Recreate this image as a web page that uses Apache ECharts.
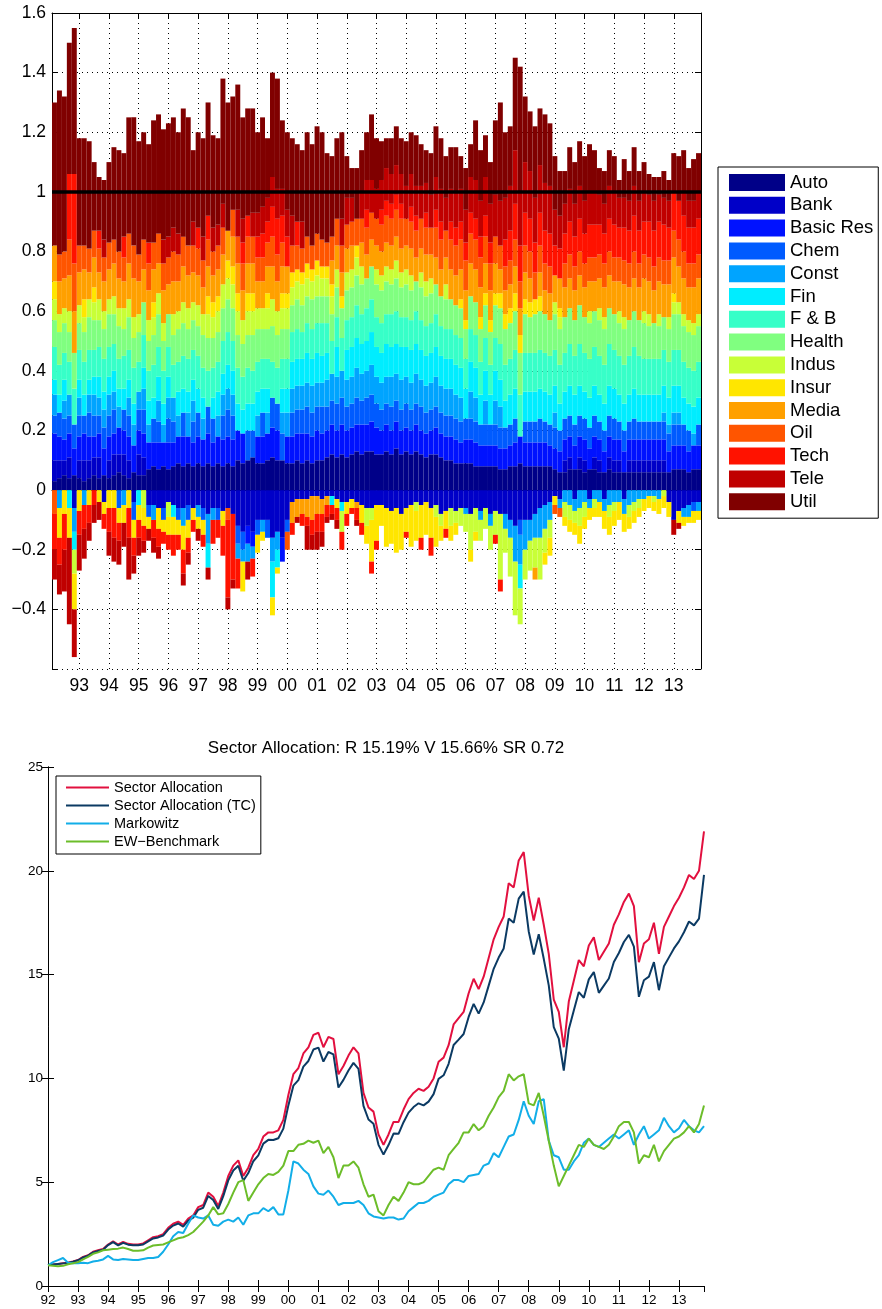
<!DOCTYPE html>
<html>
<head>
<meta charset="utf-8">
<script src="https://cdn.jsdelivr.net/npm/echarts/dist/echarts.min.js"></script>
<style>html,body{margin:0;padding:0;background:#fff}#c{width:882px;height:1309px}</style>
</head>
<body>
<div id="c"></div>
<script>
// ---------- top chart: sector weights (hundredths), one bar per two months, Feb 1992 .. Nov 2013 ----------
const sectorNames = ['Auto','Bank','Basic Res','Chem','Const','Fin','F & B','Health','Indus','Insur','Media','Oil','Tech','Tele','Util'];
const sectorColors = ['#000088','#0000C8','#0012FF','#005BFF','#00A4FF','#00EDFF','#37FFC8','#80FF80','#C8FF37','#FFE600','#FFA000','#FF5500','#FF1200','#C00000','#800000'];

const auto = [3,4,5,4,5,4,3,4,5,4, 5,4,5,6,5,4,6,5,5,7, 8,7,8,7,8,9,8,9,8,9, 8,9,8,9,8,9,8,10,9,10, 11,9,9,10,11,10,10,9,9,10, 9,10,9,10,10,11,12,11,12,11, 12,13,12,13,13,12,12,13,12,14, 12,13,12,13,12,11,12,12,11,10, 10,9,9,9,9,8,8,8,8,8, 7,7,8,8,9,8,8,8,8,8, 8,7,6,6,7,7,7,6,7,7, 6,6,7,6,6,6,6,6,6,6, 6,6,6,6,6,7,7,7,6,7,7];
const bank = [7,6,5,7,-6,6,7,6,6,7, -4,6,7,6,7,6,-4,7,6,-5, -5,-6,-6,-4,-5,-6,-6,-5,-6,-5, -6,-8,-6,-6,-7,-6,-8,-12,-14,-12, -14,-10,-10,-10,-16,-14,-16,-10,-4,-3, -3,-3,-2,-2,-3,-2,-2,-3,-4,-4, -3,-4,-5,-6,-6,-5,-5,-6,-7,-6, -8,-6,-5,-4,-5,-4,-6,-5,-8,-7, -6,-7,-6,-6,-8,-6,-7,-6,-8,-7, -8,-8,-10,-12,-10,-10,-10,-8,-6,-5, -4,-2,-3,4,4,-3,4,4,-3,4, 4,-3,4,4,4,-3,4,4,4,4, 4,4,4,4,-4,-10,-7,-6,-5,-4,-4];
const basicRes = [9,8,7,8,9,8,9,8,7,8, 9,8,7,9,8,8,9,8,8,9, 8,9,8,9,8,9,10,9,8,9, 9,10,8,9,9,9,9,10,10,-6, -5,9,9,9,10,10,-8,9,9,9, 10,9,9,10,9,9,10,9,10,9, 9,9,10,9,10,9,8,9,8,9, 8,8,8,9,8,8,8,9,8,8, 8,8,7,8,8,8,7,7,7,7, 7,7,7,8,9,8,8,8,8,8, 7,7,7,7,7,8,7,7,7,7, 7,7,7,7,7,7,7,7,7,7, 7,7,7,7,7,8,8,8,7,8,8];
const chem = [6,8,7,6,8,7,6,8,7,6, 7,7,8,-6,7,7,-6,7,8,-4, 8,7,-4,8,7,-4,8,-5,7,8, -4,9,8,-4,8,9,8,-6,-6,10, 9,-5,8,-6,10,9,9,-4,8,8, 8,9,8,8,9,8,8,9,9,8, 8,9,8,9,9,8,7,7,8,7, 7,8,7,7,8,7,7,7,7,7, 7,7,7,7,7,7,7,7,7,7, 7,7,7,8,-5,7,7,7,8,7, 7,7,7,7,7,7,7,7,7,7, 6,7,7,7,6,7,6,7,6,6, 6,6,6,6,6,7,7,7,7,-3,7];
const constr = [7,-6,6,7,-8,6,-5,6,7,6, 6,7,6,7,-5,6,7,6,7,6, -5,7,6,7,8,7,-6,8,7,-4, 7,-10,-4,7,7,7,7,-5,-4,-6, -4,7,-4,7,-8,-6,7,8,8,8, 8,8,9,8,8,9,9,9,9,9, 9,10,9,9,10,9,9,9,10,9, 10,9,9,10,9,9,9,10,9,9, 9,8,8,-2,9,8,-3,8,-4,8, 7,-5,-6,-12,-10,-10,-7,-8,-10,-8, -6,5,-3,-4,-5,-4,-6,-4,-3,-3, -4,-4,-5,-4,-4,-5,-5,-4,-3,-3, -2,-2,-3,3,3,4,4,-3,-4,4,-3];
const fin = [5,6,7,-6,-6,6,7,5,6,7, 6,6,7,6,7,6,7,-5,7,8, 7,8,7,7,-4,8,8,7,7,8, 7,-8,7,8,7,8,8,9,8,9, 9,8,8,8,-12,-6,8,8,9,9, 9,10,9,10,9,9,-3,10,-3,10, 10,10,10,10,11,10,10,11,10,10, 11,10,11,10,10,10,10,10,10,10, 10,10,10,10,10,10,10,10,10,10, 9,9,10,10,-8,10,10,10,10,10, 10,9,9,9,10,10,10,9,10,10, 9,9,10,10,9,9,9,10,9,9, 9,9,9,9,9,9,9,9,9,9,9];
const foodBev = [11,10,9,11,12,10,11,10,9,10, 11,10,9,10,11,10,12,10,11,10, 11,10,11,10,11,10,11,11,10,11, 10,12,10,10,11,11,10,12,11,12, 11,10,10,10,12,12,10,10,10,10, 9,10,10,10,11,10,11,10,11,10, 10,11,10,11,11,10,10,10,11,11, 10,10,10,11,10,10,10,11,10,10, 10,10,10,10,11,11,11,11,10,11, 12,12,12,13,14,13,13,13,13,13, 13,12,13,13,14,13,14,13,13,13, 13,13,14,13,13,13,13,14,13,12, 12,12,12,12,12,12,12,12,12,12,12];
const health = [9,11,10,10,12,9,10,11,10,9, 10,11,10,11,9,11,10,10,11,10, 10,11,10,11,10,11,11,10,10,10, 11,11,10,10,11,11,11,11,11,11, 12,11,10,10,12,11,10,10,9,10, 9,9,10,9,9,9,9,10,10,10, 10,10,10,10,11,11,11,11,10,11, 10,11,10,10,11,10,10,10,10,10, 10,10,10,10,11,11,11,11,11,11, 12,12,12,13,14,13,12,13,13,13, 12,12,12,12,12,12,13,12,12,12, 12,12,12,12,11,12,12,12,12,12, 11,12,11,11,11,12,12,12,12,12,12];
const indus = [7,6,5,7,-8,6,5,6,6,7, 6,5,6,6,7,6,7,6,-6,7, 6,7,6,-5,7,6,7,7,6,7, 7,8,7,7,8,7,8,8,8,8, 8,7,7,7,9,8,7,7,6,6, 7,6,6,7,6,6,6,6,-7,6, 6,6,6,-6,-4,5,5,5,5,6, 5,5,5,-3,5,5,5,-4,-4,5, -6,-4,-6,-6,-12,-8,-7,-7,-8,-8, -22,-8,-13,-18,-12,-10,-10,-10,-14,-8, -6,4,4,-5,-5,-4,-6,-5,4,-3, 4,4,-4,-3,4,4,-4,-3,-3,4, 4,-2,4,-2,4,4,4,4,4,4,4];
const insur = [6,-10,-8,-10,-12,-7,6,-5,5,-4, -4,-6,-6,-5,-6,-6,-6,-5,-6,-4, 5,-7,-4,-6,-6,-5,-8,-6,-4,-4, -5,6,5,5,-5,6,6,6,-10,6, 6,-6,-3,5,-6,-2,5,5,5,4, 4,5,4,5,4,4,4,-3,4,-4, -3,4,-6,-6,-14,-12,-7,-13,-11,-15, -12,-8,-14,-10,-11,-11,-10,-10,-5,-6, -5,-4,3,3,-4,-3,4,4,4,4, 5,5,5,6,6,5,5,5,5,-4, -6,-3,3,-3,-4,-4,-6,-4,-4,-3, -5,-6,-6,-5,-6,-6,-4,-4,-3,-4, -4,-3,-5,-4,-5,3,-4,-3,-2,-4,-3];
const media = [12,11,10,12,14,11,10,9,10,9, 10,10,11,10,9,12,13,11,11,10, 11,10,11,10,11,10,12,11,10,10, 9,10,9,9,10,10,10,10,10,10, 10,9,9,9,11,10,9,9,-7,-6, -5,-6,-8,-6,-5,-3,8,8,8,8, 8,-2,8,8,9,8,8,8,8,8, 8,8,9,8,8,9,8,9,9,9, 10,10,10,10,11,11,10,10,10,10, 8,8,8,9,9,9,8,-4,8,8, 9,9,10,10,10,10,10,10,10,10, 10,10,11,11,10,11,11,11,11,11, 11,11,11,11,11,12,12,12,11,12,12];
const oil = [-8,9,9,12,16,9,8,8,9,8, 8,9,8,9,8,10,11,9,10,9, 9,10,9,9,10,9,10,10,9,9, 9,9,8,8,9,-4,9,9,9,9, 9,8,8,8,10,9,8,-6,9,8, 8,9,8,9,9,8,8,9,9,8, 8,9,8,9,9,9,9,9,9,9, 10,9,9,9,10,9,9,10,10,9, 10,10,10,10,10,10,10,9,9,9, 8,8,8,9,9,9,9,9,9,9, 9,-3,-3,8,8,8,8,8,8,8, 8,8,8,8,8,8,8,9,8,8, 8,8,8,8,8,9,9,9,8,8,8];
const tech = [-12,-9,-12,22,30,-8,-8,-6,-5,6, -5,-8,-10,-6,7,-10,-6,-6,-5,7, -6,-6,-4,-5,-7,-5,-8,-5,-4,7, -4,8,-8,-6,-10,-26,-22,-10,7,7, -6,7,8,7,10,12,9,10,-4,8, -4,-3,-5,-6,-6,-4,-3,-4,-6,-4, -2,-4,-4,6,-4,-3,5,5,5,5, 5,-2,5,5,-4,5,-6,6,6,-3, 6,6,6,6,7,7,7,7,7,-3, -4,9,10,12,12,11,11,10,11,11, 11,10,10,10,11,10,11,10,11,11, 10,10,11,11,10,11,11,12,11,11, 12,12,12,12,11,13,13,12,12,12,12];
const tele = [-10,-10,-14,-29,-16,-12,-10,-6,-6,-6, 6,-8,-8,-8,-8,-14,-6,-6,-4,-4, -5,-4,8,7,8,7,-4,-4,8,-4, 8,-4,8,7,8,-4,-3,9,8,-6, 8,8,9,8,10,10,9,9,10,-2, 9,-8,-5,-6,-5,-2,-2,-3,9,9, 8,-2,9,10,11,10,10,11,10,10, 10,11,11,10,11,10,11,11,11,11, 11,12,11,11,12,13,12,13,13,14, 15,14,15,18,18,17,16,15,16,16, 16,12,11,10,11,11,11,11,11,11, 10,10,11,11,10,10,10,10,10,10, 9,10,9,9,9,-5,-2,8,9,9,9];
const util = [48,55,52,44,49,36,36,36,23,18, 20,27,31,34,28,39,43,38,36,33, 41,40,37,38,37,34,43,43,24,32, 33,38,31,29,42,43,38,42,34,36, 35,27,30,20,35,37,23,26,26,26, 24,35,34,36,36,30,27,27,29,14, 10,17,14,16,22,17,13,10,12,13, 12,15,14,17,14,11,14,17,17,14, 14,15,11,14,11,20,17,14,14,25, 33,22,20,31,42,22,20,24,19,23, 21,18,15,11,14,14,15,15,16,14, 9,11,12,12,6,13,10,13,10,10, 7,8,6,9,7,13,15,14,11,14,13];

// ---------- bottom chart: cumulative wealth, one point per two months, Jan 1992 .. Nov 2013 ----------
const lineNames = ['Sector Allocation','Sector Allocation (TC)','Markowitz','EW\u2212Benchmark'];
const lineColors = ['#E2103F','#0B3A63','#12AEE8','#6CBD2A'];
const sectorAllocation = [1.00,1.03,1.06,1.10,1.12,1.18, 1.25,1.40,1.48,1.65,1.72,1.78, 2.00,2.15,2.00,2.12,2.03,2.00, 2.00,2.05,2.20,2.35,2.40,2.50, 2.80,3.00,3.10,2.95,3.25,3.40, 3.80,3.90,4.50,4.30,3.85,4.50, 5.30,5.80,6.05,5.30,5.70,6.30, 6.60,7.20,7.40,7.40,7.50,8.00, 9.20,10.20,10.50,11.20,11.50,12.10, 12.20,11.50,12.00,11.90,10.20,10.60, 11.10,11.50,11.20,9.30,8.60,8.40, 7.30,6.80,7.30,7.90,7.90,8.50, 9.00,9.30,9.50,9.40,9.60,10.00, 10.80,11.00,11.60,12.60,12.90,13.20, 14.10,14.80,14.30,14.90,15.80,16.70, 17.30,17.80,19.40,19.20,20.50,20.90, 18.80,17.60,18.70,17.40,16.00,13.80, 13.20,11.50,13.70,14.70,15.70,15.40, 16.40,16.80,15.70,16.10,16.50,17.40, 17.90,18.50,18.90,18.30,15.60,16.50, 16.70,17.50,16.00,17.30,17.80,18.30, 18.70,19.20,19.80,19.60,20.00,21.90];
const sectorAllocationTC = [1.00,1.03,1.06,1.09,1.11,1.17, 1.24,1.38,1.46,1.62,1.69,1.75, 1.97,2.11,1.96,2.08,1.99,1.96, 1.96,2.00,2.15,2.29,2.34,2.43, 2.72,2.91,3.01,2.86,3.15,3.29, 3.67,3.77,4.34,4.14,3.71,4.33, 5.09,5.56,5.79,5.07,5.44,6.01, 6.29,6.86,7.04,7.03,7.12,7.58, 8.70,9.65,9.92,10.57,10.84,11.39, 11.48,10.81,11.27,11.16,9.56,9.93, 10.38,10.75,10.46,8.68,8.02,7.82, 6.80,6.33,6.79,7.34,7.33,7.89, 8.35,8.62,8.80,8.70,8.88,9.24, 9.98,10.15,10.70,11.61,11.87,12.14, 12.96,13.59,13.12,13.66,14.47,15.28, 15.82,16.26,17.70,17.50,18.66,19.00, 17.08,15.97,16.95,15.76,14.48,12.47, 11.92,10.38,12.37,13.27,14.16,13.88, 14.77,15.12,14.12,14.47,14.81,15.61, 16.04,16.57,16.91,16.35,13.93,14.73, 14.90,15.60,14.25,15.40,15.83,16.26, 16.60,17.04,17.56,17.37,17.70,19.80];
const markowitz = [1.00,1.15,1.25,1.35,1.12,1.10, 1.10,1.12,1.10,1.18,1.22,1.28, 1.45,1.28,1.25,1.30,1.28,1.25, 1.25,1.30,1.35,1.35,1.40,1.65, 2.00,2.40,2.60,2.55,3.00,3.40, 3.30,3.25,3.40,2.95,2.90,3.10, 3.20,3.10,3.30,2.95,3.40,3.50, 3.50,3.75,3.60,3.80,3.45,3.45, 4.60,6.00,5.90,5.60,5.40,4.80, 4.45,4.40,4.60,4.30,3.90,4.00, 4.00,4.00,4.10,3.90,3.50,3.35, 3.30,3.25,3.30,3.30,3.20,3.25, 3.60,3.80,4.00,4.00,4.10,4.30, 4.40,4.50,4.90,5.10,5.10,5.00, 5.30,5.35,5.40,5.80,5.90,6.40, 6.20,6.70,7.20,7.30,8.00,8.90, 8.20,7.80,8.90,9.00,7.00,6.30, 6.20,5.60,5.60,6.00,6.30,6.90, 7.10,6.80,6.70,6.90,7.10,7.30, 7.10,7.30,7.50,6.80,7.30,7.70, 7.10,7.30,7.50,8.10,7.70,7.40, 7.60,8.00,7.70,7.50,7.40,7.70];
const ewBenchmark = [1.00,0.98,0.95,0.97,1.05,1.10, 1.15,1.28,1.40,1.55,1.62,1.72, 1.75,1.78,1.80,1.85,1.78,1.70, 1.70,1.72,1.85,1.95,1.98,2.00, 2.10,2.20,2.30,2.35,2.45,2.60, 2.85,3.10,3.40,3.80,3.45,3.50, 3.95,4.50,5.00,5.10,4.10,4.50, 4.90,5.20,5.40,5.35,5.50,5.80, 6.50,6.50,6.80,6.85,7.00,6.90, 7.00,6.40,6.70,6.20,5.20,5.80, 5.80,6.00,5.70,4.90,4.30,4.40, 3.60,3.40,3.90,4.30,4.10,4.50, 5.00,4.90,4.90,5.00,5.30,5.60, 5.70,5.60,6.30,6.60,6.90,7.40, 7.40,7.80,7.50,7.70,8.20,8.60, 9.10,9.40,10.20,9.90,10.10,10.20, 8.80,8.70,9.30,8.20,7.00,5.80, 4.80,5.30,5.80,6.30,6.80,6.70, 7.10,6.80,6.70,6.60,6.80,7.20, 7.70,7.90,7.90,7.40,5.90,6.30, 6.20,6.80,6.00,6.50,6.80,7.10, 7.20,7.40,7.70,7.40,7.80,8.70];

const yearLabels = ['92','93','94','95','96','97','98','99','00','01','02','03','04','05','06','07','08','09','10','11','12','13'];
const titleText = 'Sector Allocation: R 15.19% V 15.66% SR 0.72';

// ---------- build ----------
const FONT = '"Liberation Sans", Arial, Helvetica, sans-serif';
const sectorValues = [auto, bank, basicRes, chem, constr, fin, foodBev, health, indus, insur, media, oil, tech, tele, util];
const nBars = auto.length;
const barPeriods = [];
for (let k = 0; k < nBars; k++) {
  const m = 1 + 2 * k; // months since Jan 1992
  barPeriods.push((1992 + Math.floor(m / 12)) + '-' + String(m % 12 + 1).padStart(2, '0'));
}
// month grid from Feb 1992 (1) to Dec 2013 (263), used for the year ticks of the top chart
const monthAxis = [];
for (let m = 1; m <= 263; m++) monthAxis.push(String(m));
const isJan = (idx) => (idx + 1) % 12 === 0;
const monthLabel = (val) => { const m = +val; return m % 12 === 0 ? yearLabels[m / 12] : ''; };

const dotted = { color: '#000', width: 1, type: [1, 4] };
const axisLine = { show: true, lineStyle: { color: '#000', width: 1 } };
const tickIn = { show: true, inside: true, length: 6, lineStyle: { color: '#000' } };

const option = {
  animation: false,
  backgroundColor: '#fff',
  textStyle: { fontFamily: FONT },
  title: {
    text: titleText, left: 381, top: 735, textAlign: 'center',
    textStyle: { fontSize: 17, fontWeight: 'normal', color: '#000', fontFamily: FONT }
  },
  legend: [
    {
      data: sectorNames, orient: 'vertical', left: 718, top: 167,
      itemWidth: 56, itemHeight: 17, itemGap: 3.8, icon: 'rect', selectedMode: false,
      padding: [6, 5, 7, 11], borderColor: '#000', borderWidth: 1, backgroundColor: '#fff',
      textStyle: { fontSize: 18.5, color: '#000', fontFamily: FONT, lineHeight: 17 }
    },
    {
      data: lineNames, orient: 'vertical', left: 56, top: 776,
      itemWidth: 43, itemHeight: 14, itemGap: 3.0, selectedMode: false,
      icon: 'path://M0,6 L43,6 L43,8 L0,8 Z',
      padding: [4, 5, 5, 10], borderColor: '#000', borderWidth: 1, backgroundColor: '#fff',
      textStyle: { fontSize: 14.5, color: '#000', fontFamily: FONT, lineHeight: 14 }
    }
  ],
  grid: [
    { left: 52, top: 13, width: 649, height: 656, containLabel: false },
    { left: 48, top: 767, width: 656, height: 519, containLabel: false }
  ],
  xAxis: [
    { type: 'category', gridIndex: 0, data: barPeriods, show: false, boundaryGap: true },
    { type: 'category', gridIndex: 0, data: monthAxis, position: 'bottom', boundaryGap: false,
      axisLine: axisLine,
      axisTick: { show: true, inside: true, length: 6, interval: isJan, lineStyle: { color: '#000' } },
      axisLabel: { interval: isJan, formatter: monthLabel, fontSize: 17.5, fontFamily: FONT, color: '#000', margin: 8 },
      splitLine: { show: true, interval: isJan, lineStyle: dotted } },
    { type: 'category', gridIndex: 0, data: monthAxis, position: 'top', boundaryGap: false,
      axisLine: axisLine,
      axisTick: { show: true, inside: true, length: 6, interval: isJan, lineStyle: { color: '#000' } },
      axisLabel: { show: false }, splitLine: { show: false } },
    { type: 'value', gridIndex: 1, min: 0, max: 262, interval: 12, position: 'bottom',
      axisLine: axisLine, axisTick: tickIn,
      axisLabel: { formatter: v => yearLabels[Math.round(v / 12)] || '', fontSize: 13.5, fontFamily: FONT, color: '#000', margin: 7,
        showMaxLabel: false },
      splitLine: { show: false } },
    { type: 'value', gridIndex: 1, min: 0, max: 262, interval: 12, position: 'top',
      axisLine: axisLine, axisTick: tickIn,
      axisLabel: { show: false }, splitLine: { show: false } }
  ],
  yAxis: [
    { type: 'value', gridIndex: 0, min: -0.6, max: 1.6, interval: 0.2,
      axisLine: axisLine, axisTick: tickIn,
      axisLabel: { fontSize: 17.5, fontFamily: FONT, color: '#000', margin: 6,
        formatter: v => Math.abs(v + 0.6) < 1e-6 ? '' : String(Math.round(v * 10) / 10).replace('-', '\u2212') },
      splitLine: { show: true, lineStyle: dotted } },
    { type: 'value', gridIndex: 0, min: -0.6, max: 1.6, interval: 0.2, position: 'right',
      axisLine: axisLine, axisTick: tickIn,
      axisLabel: { show: false }, splitLine: { show: false } },
    { type: 'value', gridIndex: 1, min: 0, max: 25, interval: 5, position: 'left',
      axisLine: axisLine, axisTick: tickIn,
      axisLabel: { fontSize: 13.5, fontFamily: FONT, color: '#000', margin: 5 },
      splitLine: { show: false } },
    { type: 'value', gridIndex: 1, min: 0, max: 25, interval: 5, position: 'right',
      axisLine: axisLine, axisTick: tickIn,
      axisLabel: { show: false }, splitLine: { show: false } }
  ],
  series: []
};

sectorNames.forEach((name, i) => {
  option.series.push({
    name: name, type: 'bar', stack: 'weights', xAxisIndex: 0, yAxisIndex: 0,
    barCategoryGap: 0, barGap: 0,
    itemStyle: { color: sectorColors[i], borderWidth: 0 },
    emphasis: { disabled: true },
    data: sectorValues[i].map(v => v / 100)
  });
});
// net-long reference line at 1
option.series.push({
  name: 'ref', type: 'line', xAxisIndex: 0, yAxisIndex: 0, data: [], z: 10,
  markLine: { silent: true, symbol: 'none', label: { show: false },
    lineStyle: { color: '#000', width: 3.5, type: 'solid' }, data: [{ yAxis: 1 }] }
});

const lineValues = [sectorAllocation, sectorAllocationTC, markowitz, ewBenchmark];
lineNames.forEach((name, i) => {
  option.series.push({
    name: name, type: 'line', xAxisIndex: 3, yAxisIndex: 2,
    symbol: 'none', showSymbol: false,
    lineStyle: { color: lineColors[i], width: 2 }, itemStyle: { color: lineColors[i] },
    emphasis: { disabled: true },
    data: lineValues[i].map((v, k) => [2 * k, v])
  });
});

const chart = echarts.init(document.getElementById('c'), null, { renderer: 'canvas' });
chart.setOption(option);
</script>
</body>
</html>
